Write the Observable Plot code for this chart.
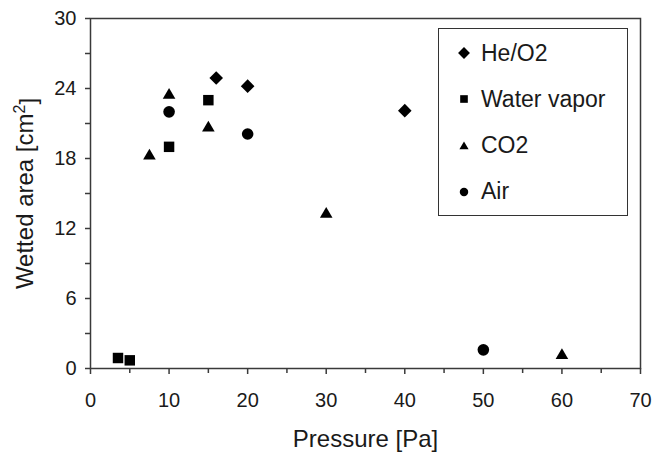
<!DOCTYPE html>
<html>
<head>
<meta charset="utf-8">
<script src="https://cdn.jsdelivr.net/npm/d3@7"></script>
<script src="https://cdn.jsdelivr.net/npm/@observablehq/plot@0.6"></script>
<style>
  html, body { margin: 0; padding: 0; background: #fff; }
  #chart { position: relative; width: 652px; height: 452px; font-family: "Liberation Sans", Arial, sans-serif; color: #1a1a1a; }
  #chart svg.plot-main { display: block; }
  .legend { position: absolute; left: 438px; top: 28px; width: 190px; height: 188px; box-sizing: border-box;
            border: 1.5px solid #333; background: #fff; font-size: 23px; display: flex; flex-direction: column;
            justify-content: space-around; padding: 1px 0 0 0; }
  .legend .row { display: flex; align-items: center; height: 30px; padding-left: 16px; }
  .legend .row svg { width: 18px; height: 18px; margin-right: 8px; flex: none; }
</style>
</head>
<body>
<div id="chart"></div>
<script>
// Series names, in legend order
const series = ["He/O2", "Water vapor", "CO2", "Air"];

// Measurements: pressure [Pa] and wetted area [cm²] per gas
const heO2Pressure = [16, 20, 40];
const heO2Area = [24.9, 24.2, 22.1];
const waterPressure = [3.5, 5, 10, 15];
const waterArea = [0.9, 0.7, 19.0, 23.0];
const co2Pressure = [7.5, 10, 15, 30, 60];
const co2Area = [18.3, 23.5, 20.7, 13.3, 1.2];
const airPressure = [10, 20, 50];
const airArea = [22.0, 20.1, 1.6];

// Axis ticks
const xTicks = [0, 10, 20, 30, 40, 50, 60, 70];
const xMinorTicks = [5, 15, 25, 35, 45, 55, 65];
const yTicks = [0, 6, 12, 18, 24, 30];
const yMinorTicks = [3, 9, 15, 21, 27];

// Marker shapes; size is the area of a circle of radius r, so r = sqrt(size / π)
const symDiamond = { draw(c, size) { const r = Math.sqrt(size / Math.PI), h = 1.08 * r;
  c.moveTo(0, -h); c.lineTo(h, 0); c.lineTo(0, h); c.lineTo(-h, 0); c.closePath(); } };
const symSquare = { draw(c, size) { const r = Math.sqrt(size / Math.PI), a = 0.83 * r;
  c.rect(-a, -a, 2 * a, 2 * a); } };
const symTriangle = { draw(c, size) { const r = Math.sqrt(size / Math.PI);
  c.moveTo(0, -1.0 * r); c.lineTo(1.0 * r, 0.72 * r); c.lineTo(-1.0 * r, 0.72 * r); c.closePath(); } };
const symCircle = { draw(c, size) { const r = Math.sqrt(size / Math.PI) * 0.92;
  c.moveTo(r, 0); c.arc(0, 0, r, 0, 2 * Math.PI); } };
const symbols = [symDiamond, symSquare, symTriangle, symCircle];

const toRows = (name, ps, as) => ps.map((p, i) => ({ series: name, pressure: p, area: as[i] }));
const rows = [
  ...toRows("He/O2", heO2Pressure, heO2Area),
  ...toRows("Water vapor", waterPressure, waterArea),
  ...toRows("CO2", co2Pressure, co2Area),
  ...toRows("Air", airPressure, airArea)
];

const ink = "#3a3a3a";
const textInk = "#1a1a1a";

const chart = Plot.plot({
  width: 652,
  height: 452,
  marginLeft: 90,
  marginRight: 12,
  marginTop: 18,
  marginBottom: 84,
  style: { fontFamily: '"Liberation Sans", Arial, sans-serif', fontSize: "20px", background: "#fff", color: textInk },
  x: { domain: [0, 70] },
  y: { domain: [0, 30] },
  symbol: { domain: series, range: symbols },
  marks: [
    Plot.frame({ stroke: ink, strokeWidth: 1.5 }),
    Plot.axisX(xTicks, { tickSize: 6, tickPadding: 18, stroke: ink, strokeWidth: 1.5, fill: textInk,
      label: "Pressure [Pa]", labelAnchor: "center", labelOffset: 78, labelArrow: "none" }),
    Plot.axisX(xMinorTicks, { tickSize: 5, stroke: ink, strokeWidth: 1.5, tickFormat: () => "", label: null }),
    Plot.axisY(yTicks, { tickSize: 5, tickPadding: 9, stroke: ink, strokeWidth: 1.5, fill: textInk,
      label: "Wetted area [cm2]", labelAnchor: "center", labelOffset: 75, labelArrow: "none" }),
    Plot.axisY(yMinorTicks, { tickSize: 5, stroke: ink, strokeWidth: 1.5, tickFormat: () => "", label: null }),
    Plot.dot(rows, { x: "pressure", y: "area", symbol: "series", r: 6.3, fill: "#000", stroke: "none" })
  ]
});
chart.classList.add("plot-main");

// Axis titles: larger type, and a raised exponent on cm²
const svg = d3.select(chart);
svg.selectAll('[aria-label="x-axis label"] text').style("font-size", "24px");
svg.selectAll('[aria-label="y-axis label"] text').each(function () {
  const t = d3.select(this).style("font-size", "24px");
  t.text(null);
  t.append("tspan").text("Wetted area [cm");
  t.append("tspan").attr("dy", "-0.45em").style("font-size", "16px").text("2");
  t.append("tspan").attr("dy", "0.45em").text("]");
});

const root = document.getElementById("chart");
root.appendChild(chart);

// Legend box in the upper right of the plot
const legend = document.createElement("div");
legend.className = "legend";
series.forEach((name, i) => {
  const row = document.createElement("div");
  row.className = "row";
  const s = d3.create("svg").attr("viewBox", "-9 -9 18 18");
  const r = i === 0 ? 5.5 : 4.6;
  s.append("path").attr("d", d3.symbol(symbols[i], Math.PI * r * r)()).attr("fill", "#000");
  row.appendChild(s.node());
  const label = document.createElement("span");
  label.textContent = name;
  row.appendChild(label);
  legend.appendChild(row);
});
root.appendChild(legend);
</script>
</body>
</html>
